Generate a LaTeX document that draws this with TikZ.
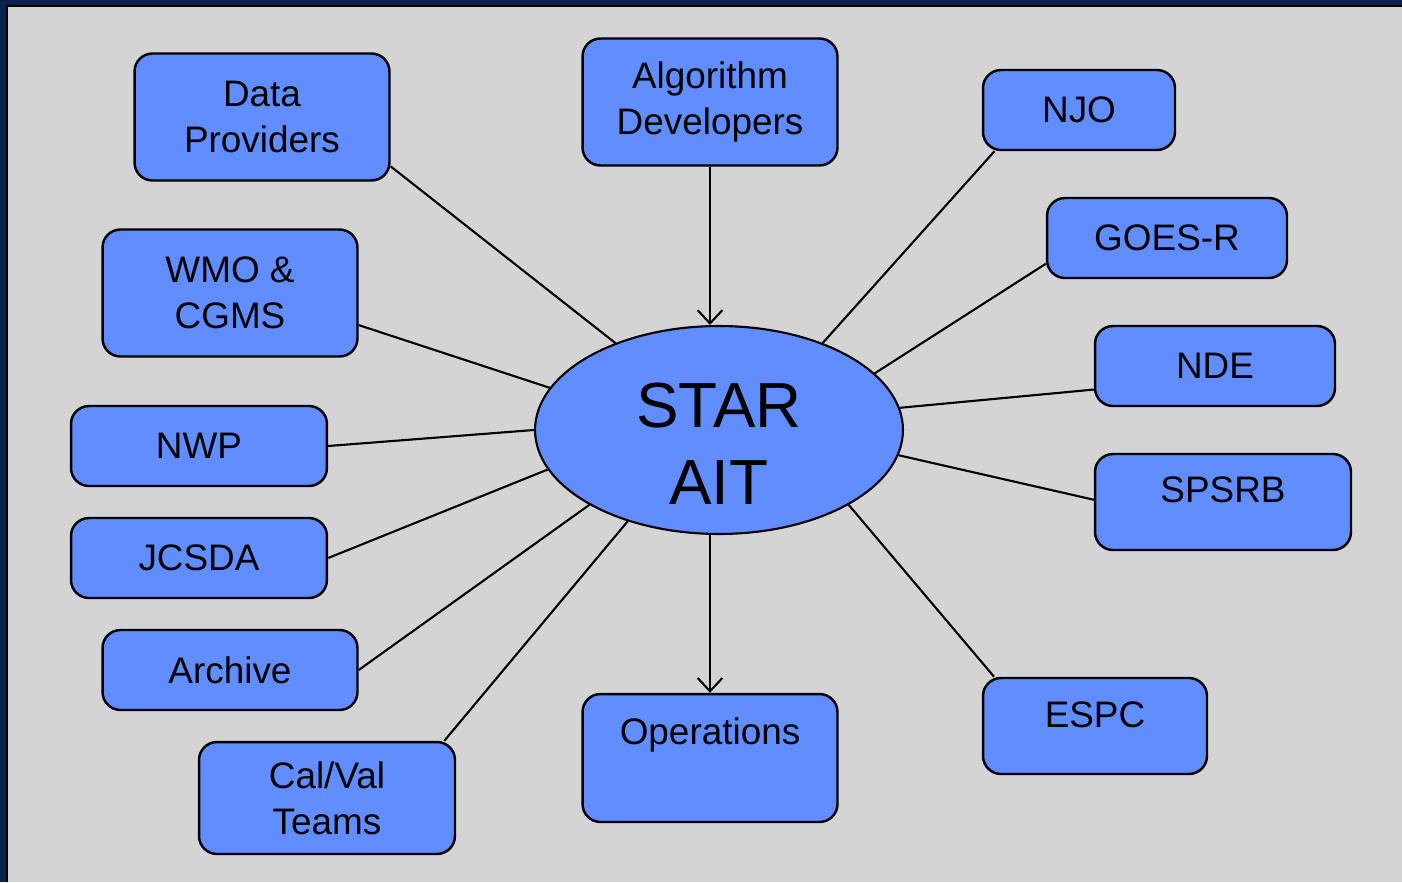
\documentclass[tikz,border=0pt]{standalone}
\usepackage{fontspec}
\setmainfont{Liberation Sans}
\usetikzlibrary{arrows.meta, shapes.geometric}
\definecolor{boxblue}{RGB}{96,141,255}
\definecolor{panelgray}{RGB}{212,212,212}
\definecolor{frameblue}{RGB}{10,34,78}

\begin{document}
\begin{tikzpicture}[x=0.02cm, y=-0.02cm,
    box/.style={draw, line width=1.4pt, fill=boxblue, rounded corners=0.36cm, inner sep=0pt,
        align=center, font=\fontsize{21}{26.2}\selectfont},
    link/.style={line width=1.2pt},
    arr/.style={line width=1.2pt, -{Straight Barb[length=7.5pt, width=14pt]}}]
    \useasboundingbox (0,0) rectangle (1402,882);
    \fill[frameblue] (0,0) rectangle (1402,882);
    \fill[panelgray] (7,6) rectangle (1402,882);
    \draw[line width=1.2pt] (7,882) -- (7,6) -- (1402,6);

    \node[draw, ellipse, line width=1.2pt, fill=boxblue, minimum width=7.36cm, minimum height=4.16cm, inner sep=0pt] (star) at (719,430) {};
    \node[font=\fontsize{36.3}{43.6}\selectfont, align=center] (startext) at (719,444) {STAR\\AIT};

    \node[box, minimum width=5.1cm, minimum height=2.54cm] (dp) at (262,117) {Data\\Providers};
    \node[box, minimum width=5.1cm, minimum height=2.54cm] (alg) at (710,102) {Algorithm\\Developers};
    \node[box, minimum width=3.84cm, minimum height=1.6cm] (njo) at (1079,110) {NJO};
    \node[box, minimum width=4.8cm, minimum height=1.6cm] (goes) at (1167,238) {GOES-R};
    \node[box, minimum width=4.8cm, minimum height=1.6cm] (nde) at (1215,366) {NDE};
    \node[box, minimum width=5.12cm, minimum height=1.92cm, text depth=0.48cm] (spsrb) at (1223,502) {SPSRB};
    \node[box, minimum width=4.48cm, minimum height=1.92cm, text depth=0.44cm] (espc) at (1095,726) {ESPC};
    \node[box, minimum width=5.1cm, minimum height=2.56cm, text depth=1.06cm] (ops) at (710,758) {Operations};
    \node[box, minimum width=5.12cm, minimum height=2.24cm] (calval) at (327,798) {Cal/Val\\Teams};
    \node[box, minimum width=5.1cm, minimum height=1.6cm] (archive) at (230,670) {Archive};
    \node[box, minimum width=5.12cm, minimum height=1.6cm] (jcsda) at (199,558) {JCSDA};
    \node[box, minimum width=5.12cm, minimum height=1.6cm] (nwp) at (199,446) {NWP};
    \node[box, minimum width=5.1cm, minimum height=2.54cm] (wmo) at (230,293) {WMO \&\\CGMS};

    \draw[arr] (alg.south) -- (alg.south |- star.north);
    \draw[arr] (ops.north |- star.south) -- (ops.north);
    \draw[link] (dp.-21) -- (star.140);
    \draw[link] (njo.206) -- (star.40.5);
    \draw[link] (goes.192) -- (star.20.6);
    \draw[link] (nde.191) -- (star.7.9);
    \draw[link] (spsrb.179) -- (star.-8.6);
    \draw[link] (espc.154) -- (star.-30);
    \draw[link] (calval.26) -- (star.-135);
    \draw[link] (archive.east) -- (star.-150.5);
    \draw[link] (jcsda.east) -- (star.193.5);
    \draw[link] (nwp.east) -- (star.180);
    \draw[link] (wmo.-14) -- (star.166.2);
\end{tikzpicture}
\end{document}
